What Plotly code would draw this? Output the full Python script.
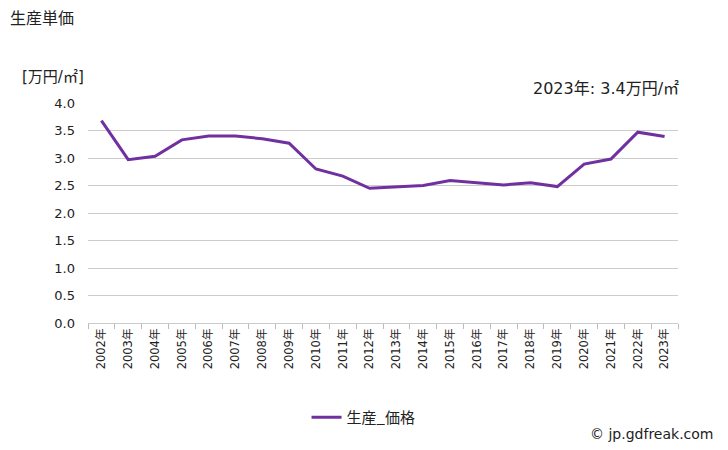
import plotly.graph_objects as go

years = [f"{y}年" for y in range(2002, 2024)]
values = [3.68, 2.97, 3.03, 3.33, 3.40, 3.40, 3.35, 3.27, 2.80, 2.67, 2.45,
          2.47, 2.50, 2.59, 2.55, 2.51, 2.55, 2.48, 2.89, 2.98, 3.47, 3.39]
series_name = "生産_価格"
title = "生産単価"
unit_label = "[万円/㎡]"
last_label = "2023年: 3.4万円/㎡"
credit = "© jp.gdfreak.com"
yticks = [0, 0.5, 1.0, 1.5, 2.0, 2.5, 3.0, 3.5, 4.0]

jp = "Noto Sans CJK JP, DejaVu Sans, sans-serif"
num = "DejaVu Sans, Noto Sans CJK JP, sans-serif"

fig = go.Figure()
fig.add_trace(go.Scatter(
    x=years, y=values, mode="lines", name=series_name,
    line=dict(color="#7030A0", width=3),
))

fig.update_layout(
    width=728, height=450,
    margin=dict(l=88, r=50, t=103, b=127),
    paper_bgcolor="white", plot_bgcolor="white",
    font=dict(family=jp, color="#222222"),
    showlegend=True,
    legend=dict(orientation="h", x=0.467, xanchor="center", y=-0.43, yanchor="middle",
                font=dict(size=15, family=jp), itemwidth=30),
    xaxis=dict(type="category", tickangle=-90, tickfont=dict(size=11.5, family=num),
               showgrid=False, showline=True, linecolor="#cccccc",
               ticks="outside", tickson="boundaries", ticklen=5, tickcolor="#bbbbbb",
               range=[-0.5, len(years) - 0.5]),
    yaxis=dict(range=[0, 4.0], tickvals=yticks, ticktext=[f"{v:.1f}" for v in yticks],
               tickfont=dict(size=13, family=num), showgrid=True, gridcolor="#cccccc",
               gridwidth=1, zeroline=False, showline=False, ticks="", ticklabelstandoff=12),
)

fig.add_annotation(text=title, xref="paper", yref="paper", x=-88/590, y=(323-17)/220,
                   xanchor="left", yanchor="middle", showarrow=False,
                   font=dict(size=16, family=jp, color="#222222"), xshift=8)
fig.add_annotation(text=unit_label, xref="paper", yref="paper", x=-68/590, y=(323-77)/220,
                   xanchor="left", yanchor="middle", showarrow=False,
                   font=dict(size=15, family=num, color="#222222"))
fig.add_annotation(text=last_label, xref="paper", yref="paper", x=1.005, y=(323-89)/220,
                   xanchor="right", yanchor="middle", showarrow=False,
                   font=dict(size=16, family=num, color="#222222"))
fig.add_annotation(text=credit, xref="paper", yref="paper", x=(715-88)/590, y=(323-434)/220,
                   xanchor="right", yanchor="middle", showarrow=False,
                   font=dict(size=14, family=num, color="#222222"))

fig.write_html("out.html")
